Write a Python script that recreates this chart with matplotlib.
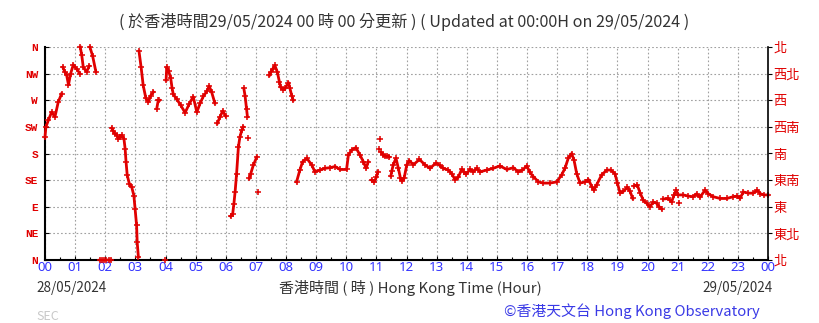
import matplotlib
matplotlib.use('Agg')
import matplotlib.pyplot as plt
import numpy as np

nan = np.nan

# Wind direction time series (hours since 00:00 28/05/2024, degrees); nan = gap
hours = [
    0.00, 0.03, 0.11, 0.22, 0.33, 0.44, 0.55, nan,
    0.59, 0.66, 0.72, 0.78, 0.85, 0.94, 1.05, 1.16, nan,
    1.17, 1.22, 1.27, 1.38, 1.47, nan,
    1.49, 1.58, 1.69, nan,
    1.83, 1.90, 1.97, 2.04, 2.11, 2.18, nan,
    2.21, 2.27, 2.32, 2.38, 2.43, 2.49, 2.55, 2.62, 2.66, 2.69, 2.73, 2.80, 2.88, 2.95, 2.99, 3.04, 3.06, 3.10, nan,
    3.12, 3.19, 3.26, 3.35, 3.43, 3.51, 3.60, nan,
    3.71, 3.76, 3.80, nan,
    3.98, nan,
    4.02, 4.04, 4.10, 4.17, 4.22, 4.26, 4.37, 4.50, 4.65, 4.79, 4.92, 5.04, 5.15, 5.26, 5.37, 5.45, 5.53, 5.64, nan,
    5.72, 5.81, 5.90, 6.00, nan,
    6.16, 6.23, 6.27, 6.31, 6.36, 6.42, 6.47, 6.53, 6.58, nan,
    6.60, 6.64, 6.69, 6.72, nan,
    6.75, nan,
    6.78, 6.83, 6.92, 7.03, nan,
    7.08, nan,
    7.45, 7.50, 7.56, 7.63, 7.71, 7.78, 7.82, 7.90, 7.97, 8.08, 8.13, 8.19, 8.24, nan,
    8.35, 8.46, 8.55, 8.69, 8.85, 8.96, 9.13, 9.29, 9.46, 9.63, 9.79, 10.01, 10.07, 10.18, 10.32, 10.46, 10.57, 10.66, 10.73, nan,
    10.84, 10.93, 11.00, 11.05, nan,
    11.08, nan,
    11.12, nan,
    11.16, 11.22, 11.29, 11.36, 11.43, nan,
    11.48, 11.51, 11.56, 11.65, 11.73, 11.80, 11.85, 11.92, 12.01, 12.09, 12.23, 12.43, 12.61, 12.78, 12.98, 13.10,
    13.22, 13.39, 13.50, 13.61, 13.72, 13.83, 13.91, 13.98, 14.11, 14.22, 14.33, 14.44, 14.66, 14.88, 15.10, 15.33,
    15.55, 15.71, 15.85, 15.99, 16.10, 16.21, 16.38, 16.54, 16.76, 16.99, 17.15, 17.26, 17.37, 17.48, 17.56, 17.65,
    17.76, 17.93, 18.04, 18.15, 18.22, 18.31, 18.48, 18.65, 18.78, 18.92, 19.00, 19.09, 19.20, 19.33, 19.42, 19.51, nan,
    19.55, 19.66, 19.75, 19.86, 19.97, 20.08, 20.19, 20.30, 20.39, 20.47, nan,
    20.52, 20.69, 20.80, 20.88, 20.95, 21.02, 21.19, 21.35, 21.52, 21.63, 21.74, 21.91, 22.02, 22.18, 22.41, 22.63,
    22.85, 22.98, 23.07, 23.18, 23.35, 23.51, 23.64, 23.75, 23.86, 24.00, nan,
    21.03,
]
directions = [
    208, 225, 236, 250, 242, 267, 281, nan,
    326, 318, 312, 296, 315, 330, 323, 315, nan,
    360, 346, 326, 318, 328, nan,
    360, 345, 318, nan,
    0, 0, 0, 0, 0, 0, nan,
    223, 218, 213, 212, 205, 208, 211, 205, 188, 166, 143, 129, 123, 109, 87, 59, 30, 5, nan,
    353, 326, 295, 273, 267, 278, 284, nan,
    256, 270, 270, nan,
    0, nan,
    304, 326, 320, 308, 290, 280, 272, 262, 249, 264, 276, 250, 265, 277, 285, 294, 284, 265, nan,
    231, 242, 252, 243, nan,
    74, 78, 95, 115, 146, 191, 208, 219, 225, nan,
    290, 278, 256, 242, nan,
    206, nan,
    138, 146, 161, 174, nan,
    115, nan,
    312, 318, 323, 329, 318, 301, 292, 288, 290, 300, 290, 278, 270, nan,
    132, 152, 166, 172, 161, 149, 152, 155, 156, 158, 153, 153, 177, 186, 190, 177, 166, 155, 166, nan,
    135, 132, 140, 149, nan,
    187, nan,
    204, nan,
    182, 178, 175, 176, 174, nan,
    142, 150, 161, 172, 155, 138, 133, 138, 161, 168, 161, 170, 161, 155, 164, 160,
    155, 152, 146, 136, 140, 153, 149, 145, 153, 149, 155, 149, 152, 155, 159, 153,
    156, 149, 152, 159, 148, 141, 132, 130, 130, 132, 144, 155, 172, 180, 169, 146,
    130, 132, 136, 124, 118, 127, 144, 152, 152, 146, 130, 113, 116, 123, 116, 104, nan,
    125, 127, 114, 101, 96, 90, 98, 96, 90, 86, nan,
    103, 104, 98, 110, 118, 110, 110, 108, 107, 112, 106, 118, 112, 107, 104, 104,
    107, 108, 104, 115, 113, 113, 118, 112, 110, 110, nan,
    97,
]

dir_ticks = [0, 45, 90, 135, 180, 225, 270, 315, 360]
dir_labels_en = ['N', 'NE', 'E', 'SE', 'S', 'SW', 'W', 'NW', 'N']
dir_labels_zh = ['北', '東北', '東', '東南', '南', '西南', '西', '西北', '北']
hour_ticks = list(range(25))
hour_labels = ['00', '01', '02', '03', '04', '05', '06', '07', '08', '09', '10', '11',
               '12', '13', '14', '15', '16', '17', '18', '19', '20', '21', '22', '23', '00']

title = '( 於香港時間29/05/2024 00 時 00 分更新 ) ( Updated at 00:00H on 29/05/2024 )'
xlabel = '香港時間 ( 時 ) Hong Kong Time (Hour)'
date_left = '28/05/2024'
date_right = '29/05/2024'
credit = '©香港天文台 Hong Kong Observatory'

CJK = ['Noto Sans CJK TC', 'DejaVu Sans']
RED = '#e00000'
BLUE = '#3333ff'

W, H = 819, 323
fig = plt.figure(figsize=(W / 100, H / 100), dpi=100)
fig.patch.set_facecolor('white')
x0, x1, y0, y1 = 45, 768, 47, 260
ax = fig.add_axes([x0 / W, 1 - y1 / H, (x1 - x0) / W, (y1 - y0) / H])

ax.set_xlim(0, 24)
ax.set_ylim(0, 360)

ax.plot(hours, directions, color=RED, lw=2.0, marker='+', ms=4, mew=1.1,
        clip_on=False, zorder=3)

ax.set_xticks(hour_ticks)
ax.set_xticklabels(hour_labels, color=BLUE, fontsize=9.5, fontfamily='Noto Sans')
ax.set_xticks(np.arange(0.5, 24, 1), minor=True)
ax.set_yticks(dir_ticks)
ax.set_yticklabels(dir_labels_en, color=RED, fontsize=8, fontfamily='Liberation Mono',
                   fontweight='bold')
ax.tick_params(axis='x', which='major', direction='in', length=3, width=0.8, pad=1)
ax.tick_params(axis='x', which='minor', direction='in', length=2, width=0.8)
ax.tick_params(axis='y', which='major', direction='in', length=3, width=0.8, pad=5)

ax.grid(True, which='major', color='#a0a0a0', linestyle=(0, (1.5, 2)), lw=0.8)
for s in ['top', 'right']:
    ax.spines[s].set_visible(False)
ax.spines['left'].set_linewidth(1.5)
ax.spines['bottom'].set_linewidth(1.5)

ax2 = ax.twinx()
ax2.set_ylim(0, 360)
ax2.set_yticks(dir_ticks)
ax2.set_yticklabels(dir_labels_zh, color=RED, fontsize=9.5, fontfamily=CJK)
ax2.tick_params(axis='y', direction='out', length=3, width=0.8, pad=1)
for s in ['top', 'left', 'bottom']:
    ax2.spines[s].set_visible(False)
ax2.spines['right'].set_linewidth(1.2)

def fy(py):
    return 1 - py / H

fig.text(404 / W, fy(22), title, ha='center', va='center', fontsize=11.6,
         color='#333333', fontfamily=CJK)
fig.text(36 / W, fy(288), date_left, ha='left', va='center', fontsize=9.7,
         color='#333333', fontfamily=CJK)
fig.text(410 / W, fy(288), xlabel, ha='center', va='center', fontsize=10.8,
         color='#333333', fontfamily=CJK)
fig.text(773 / W, fy(288), date_right, ha='right', va='center', fontsize=9.7,
         color='#333333', fontfamily=CJK)
fig.text(36 / W, fy(316), 'SEC', ha='left', va='center', fontsize=9,
         color='#c8c8c8', fontfamily=CJK)
fig.text(760 / W, fy(311), credit, ha='right', va='center', fontsize=10.7,
         color='#3a3ae6', fontfamily=CJK)

fig.savefig('out.png', dpi=100, facecolor='white')
